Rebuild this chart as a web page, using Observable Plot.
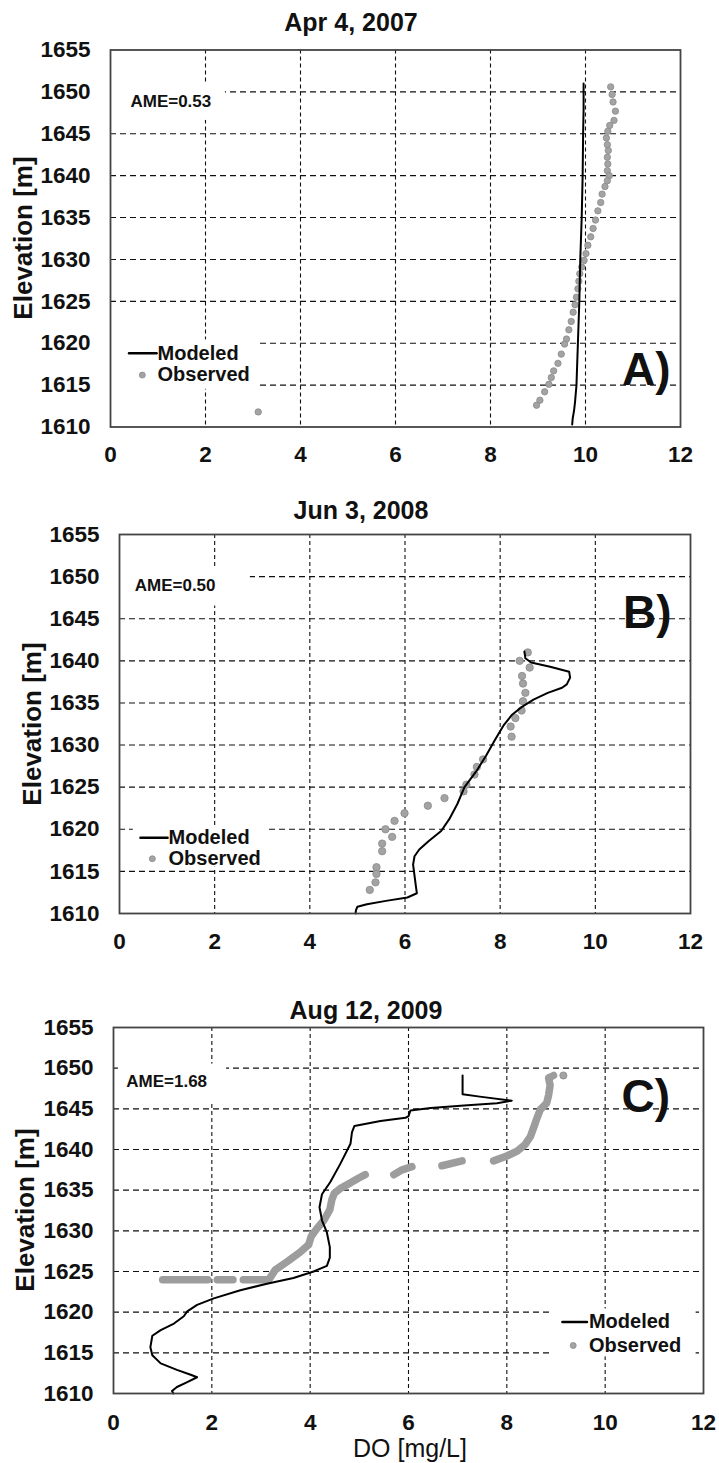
<!DOCTYPE html>
<html><head><meta charset="utf-8">
<script src="https://cdn.jsdelivr.net/npm/d3@7"></script>
<script src="https://cdn.jsdelivr.net/npm/@observablehq/plot@0.6"></script>
<style>
html,body{margin:0;padding:0;background:#fff;}
#root{position:relative;width:719px;height:1463px;background:#fff;overflow:hidden;font-family:"Liberation Sans",Arial,sans-serif;color:#111;}
.panel{position:absolute;left:0;}
.title{position:absolute;font-weight:bold;font-size:25px;transform:translate(-50%,-50%);white-space:nowrap;}
.ylab{position:absolute;font-weight:bold;font-size:26px;transform:translate(-50%,-50%) rotate(-90deg);white-space:nowrap;}
.xlab{position:absolute;font-weight:normal;font-size:25px;transform:translate(-50%,-50%);white-space:nowrap;}
</style></head><body><div id="root"></div>
<script>
// ---------- data ----------
const xTicks = [0, 2, 4, 6, 8, 10, 12];
const yTicks = [1610, 1615, 1620, 1625, 1630, 1635, 1640, 1645, 1650, 1655];
const xGrid = [2, 4, 6, 8, 10];
const yGrid = [1615, 1620, 1625, 1630, 1635, 1640, 1645, 1650];
const titles = ["Apr 4, 2007", "Jun 3, 2008", "Aug 12, 2009"];
const ameLabels = ["AME=0.53", "AME=0.50", "AME=1.68"];
const panelTags = ["A)", "B)", "C)"];
const legendNames = ["Modeled", "Observed"];
const yLabel = "Elevation [m]";
const xLabel = "DO [mg/L]";

// [DO, elevation]
const modeledA = [[9.96,1651.0],[9.96,1648],[9.95,1645],[9.94,1640],[9.92,1635],[9.89,1630],[9.87,1625],[9.84,1620],[9.81,1615],[9.78,1613],[9.76,1612],[9.73,1611],[9.72,1610.3]];
const observedA = [[10.53,1650.6],[10.56,1649.7],[10.58,1648.8],[10.63,1647.7],[10.60,1646.6],[10.51,1646.0],[10.47,1645.3],[10.44,1644.5],[10.46,1643.7],[10.48,1643.0],[10.46,1642.2],[10.47,1641.4],[10.46,1640.6],[10.50,1640.0],[10.46,1639.4],[10.41,1638.7],[10.35,1637.8],[10.32,1636.8],[10.26,1635.8],[10.21,1634.7],[10.16,1633.7],[10.11,1632.7],[10.05,1631.7],[10.01,1630.7],[9.97,1629.9],[9.92,1629.1],[9.88,1628.3],[9.86,1627.4],[9.84,1626.5],[9.81,1625.5],[9.78,1624.6],[9.74,1623.7],[9.70,1622.6],[9.65,1621.6],[9.60,1620.5],[9.56,1619.9],[9.49,1618.7],[9.42,1617.6],[9.33,1616.7],[9.28,1615.9],[9.23,1615.1],[9.14,1614.2],[9.04,1613.2],[8.97,1612.6],[3.11,1611.8]];

const modeledB = [[8.51,1641.1],[8.53,1640.3],[8.65,1639.8],[9.05,1639.3],[9.45,1638.7],[9.47,1638.0],[9.40,1637.2],[9.30,1636.8],[9.00,1636.2],[8.70,1635.4],[8.45,1634.5],[8.25,1633.6],[8.08,1632.4],[7.88,1630.5],[7.70,1628.7],[7.50,1626.9],[7.25,1625.0],[7.10,1623.0],[6.93,1621.2],[6.76,1619.8],[6.50,1618.6],[6.30,1617.6],[6.20,1616.8],[6.17,1615.8],[6.20,1614.5],[6.23,1613.2],[6.25,1612.4],[6.05,1611.9],[5.60,1611.5],[5.20,1611.1],[5.00,1610.8],[4.97,1610.4],[4.96,1610.0]];
const observedB = [[8.58,1641.0],[8.41,1640.0],[8.62,1639.2],[8.46,1638.2],[8.48,1637.3],[8.53,1636.2],[8.48,1635.2],[8.45,1634.1],[8.32,1633.2],[8.22,1632.2],[8.24,1631.0],[7.64,1628.3],[7.51,1627.4],[7.46,1626.5],[7.29,1625.3],[7.23,1624.5],[6.83,1623.7],[6.48,1622.8],[5.99,1621.9],[5.78,1621.0],[5.59,1620.0],[5.73,1619.1],[5.52,1618.3],[5.52,1617.4],[5.40,1615.5],[5.40,1614.7],[5.38,1613.7],[5.26,1612.8]];

const modeledC = [[7.10,1649.1],[7.10,1646.8],[7.45,1646.5],[8.10,1646.0],[7.80,1645.7],[7.13,1645.4],[6.45,1645.1],[6.04,1644.8],[6.00,1644.1],[5.94,1643.9],[5.43,1643.5],[4.90,1642.9],[4.85,1642.1],[4.82,1640.7],[4.61,1638.2],[4.41,1636.0],[4.24,1634.5],[4.19,1632.9],[4.24,1631.3],[4.34,1629.8],[4.40,1628.0],[4.40,1626.7],[4.34,1625.7],[4.07,1625.0],[3.66,1624.2],[3.12,1623.5],[2.58,1622.7],[2.04,1621.7],[1.70,1620.9],[1.50,1620.1],[1.43,1619.5],[1.23,1618.6],[0.96,1617.8],[0.79,1617.1],[0.75,1615.7],[0.79,1614.7],[0.96,1613.7],[1.29,1612.9],[1.57,1612.3],[1.70,1612.0],[1.50,1611.4],[1.29,1610.8],[1.19,1610.3],[1.22,1610.0]];
// observed C: dense runs of readings, one array per unbroken run
const observedCRuns = [
  [[1.00,1624.0],[1.92,1624.0]],
  [[2.11,1624.0],[2.43,1624.0]],
  [[2.64,1624.0],[3.16,1624.0],[3.29,1625.2],[3.53,1626.2],[3.80,1627.4],[3.97,1628.3],[4.02,1629.3],[4.14,1630.3],[4.28,1631.3],[4.40,1632.6],[4.44,1633.8],[4.49,1634.6],[4.61,1635.2],[4.82,1635.9],[4.99,1636.5],[5.12,1636.9]],
  [[5.70,1636.9],[5.87,1637.5],[6.07,1637.9]],
  [[6.68,1638.0],[7.09,1638.6]],
  [[7.73,1638.6],[8.00,1639.2],[8.21,1639.8],[8.37,1640.6],[8.48,1641.6],[8.54,1642.6],[8.61,1643.8],[8.68,1644.9],[8.81,1645.7],[8.85,1646.7],[8.88,1647.9],[8.85,1648.8],[8.95,1649.1]]
];
const observedCSingles = [[9.15,1649.1]];

// annotation anchors in data units
const amePos = [[0.42,1648.8],[0.32,1648.9],[0.26,1648.3]];
const tagPos = [[11.79,1616.8],[11.6,1645.6],[11.32,1646.4]];
const legendLine = [[[0.39,1618.8],[0.97,1618.8]], [[0.44,1619.0],[1.01,1619.0]], [[9.13,1618.8],[9.63,1618.8]]];
const legendDot = [[0.67,1616.2],[0.69,1616.5],[9.35,1615.9]];
const legendTextX = [0.99, 1.03, 9.67];
const legendTextY = [[1618.8,1616.2],[1619.0,1616.5],[1618.8,1615.9]];
const ameBoxes = [{x1:0,x2:2.42,y1:1646.6,y2:1651.0},{x1:0,x2:2.75,y1:1646.5,y2:1651.0},{x1:0.1,x2:2.3,y1:1645.6,y2:1650.5}];
const legendBoxes = [{x1:0,x2:3.14,y1:1614.5,y2:1620.4},{x1:0.29,x2:3.11,y1:1615.5,y2:1620.3},{x1:8.94,x2:11.85,y1:1614.5,y2:1620.4}];

// ---------- layout ----------
const FONT = '"Liberation Sans", Arial, sans-serif';
const layout = [
  {top:0, h:470, ml:110, mr:39, mt:49.5, mb:43.5, pad:19, title:[351,22], ylab:[23,238], r:3.2},
  {top:470, h:480, ml:119, mr:29, mt:64, mb:37, pad:19.5, title:[361,510], ylab:[32,723.5], r:3.7},
  {top:950, h:513, ml:113, mr:16, mt:77, mb:70, pad:21, title:[366,1010], ylab:[25,1210], r:3.6}
];
const OBS_FILL = "#a3a3a3", OBS_STROKE = "#8a8a8a";

const root = document.getElementById("root");
const X = d => d[0], Y = d => d[1];

layout.forEach((L, i) => {
  const marks = [
    Plot.ruleY(yGrid, {stroke:"#111", strokeWidth:1.1, strokeDasharray:"6,4"}),
    Plot.ruleX(xGrid, {stroke:"#111", strokeWidth:1.1, strokeDasharray:"4,3"}),
    Plot.rect([ameBoxes[i], legendBoxes[i]], {x1:"x1", x2:"x2", y1:"y1", y2:"y2", fill:"white"}),
    Plot.axisX({ticks:xTicks, tickSize:0, tickPadding:L.pad, label:null}),
    Plot.axisY({ticks:yTicks, tickSize:0, tickPadding:20, label:null, tickFormat:d3.format("d")})
  ];
  if (i === 0) {
    marks.push(Plot.dot(observedA, {x:X, y:Y, r:L.r, fill:OBS_FILL, stroke:OBS_STROKE, strokeWidth:0.8}));
    marks.push(Plot.line(modeledA, {x:X, y:Y, stroke:"#000", strokeWidth:2}));
  } else if (i === 1) {
    marks.push(Plot.dot(observedB, {x:X, y:Y, r:L.r, fill:OBS_FILL, stroke:OBS_STROKE, strokeWidth:0.8}));
    marks.push(Plot.line(modeledB, {x:X, y:Y, stroke:"#000", strokeWidth:2}));
  } else {
    const runs = observedCRuns.flatMap((run, k) => run.map(p => ({v:p[0], e:p[1], run:k})));
    marks.push(Plot.line(runs, {x:"v", y:"e", z:"run", stroke:"#9d9d9d", strokeWidth:7.5, strokeLinecap:"round", strokeLinejoin:"round"}));
    marks.push(Plot.dot(observedCSingles, {x:X, y:Y, r:L.r, fill:OBS_FILL, stroke:OBS_STROKE, strokeWidth:0.8}));
    marks.push(Plot.line(modeledC, {x:X, y:Y, stroke:"#000", strokeWidth:2}));
  }
  // annotations
  marks.push(Plot.text([amePos[i]], {x:X, y:Y, text:() => ameLabels[i], textAnchor:"start", fontSize:17, fontWeight:"bold"}));
  marks.push(Plot.text([tagPos[i]], {x:X, y:Y, text:() => panelTags[i], textAnchor:"end", fontSize:46, fontWeight:"bold"}));
  marks.push(Plot.line(legendLine[i], {x:X, y:Y, stroke:"#000", strokeWidth:2.5}));
  marks.push(Plot.dot([legendDot[i]], {x:X, y:Y, r:3, fill:OBS_FILL, stroke:OBS_STROKE, strokeWidth:0.8}));
  marks.push(Plot.text(legendNames, {x:() => legendTextX[i], y:(d, j) => legendTextY[i][j], text:d => d, textAnchor:"start", fontSize:20, fontWeight:"bold"}));
  marks.push(Plot.frame({stroke:"#444", strokeWidth:1.8}));

  const svg = Plot.plot({
    width:719, height:L.h,
    marginLeft:L.ml, marginRight:L.mr, marginTop:L.mt, marginBottom:L.mb,
    x:{domain:[0,12]}, y:{domain:[1610,1655]},
    style:{fontFamily:FONT, fontSize:"22.5px", fontWeight:"bold", color:"#111", background:"transparent", overflow:"visible"},
    marks
  });
  svg.classList.add("panel");
  svg.style.top = L.top + "px";
  root.appendChild(svg);

  const t = document.createElement("div");
  t.className = "title"; t.textContent = titles[i];
  t.style.left = L.title[0] + "px"; t.style.top = L.title[1] + "px";
  root.appendChild(t);

  const yl = document.createElement("div");
  yl.className = "ylab"; yl.textContent = yLabel;
  yl.style.left = L.ylab[0] + "px"; yl.style.top = L.ylab[1] + "px";
  root.appendChild(yl);
});

const xl = document.createElement("div");
xl.className = "xlab"; xl.textContent = xLabel;
xl.style.left = "410px"; xl.style.top = "1448px";
root.appendChild(xl);
</script></body></html>
